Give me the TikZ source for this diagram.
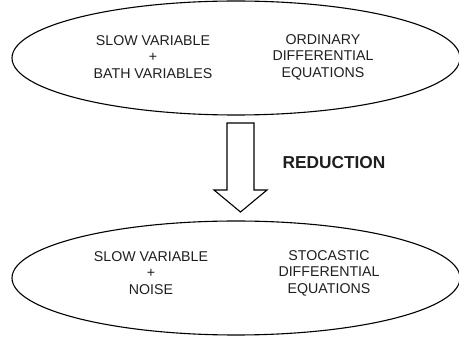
\documentclass[tikz,border=0pt]{standalone}
\usepackage{fontspec}
\setmainfont{Liberation Sans}
\usetikzlibrary{shapes.geometric}
\begin{document}
\begin{tikzpicture}[x=1pt,y=-1pt,
  oval/.style={ellipse,draw,line width=1.1pt,inner sep=0pt,
    minimum width=448pt,minimum height=114pt},
  lbl/.style={align=center,font=\fontsize{14.2}{16.5}\selectfont,text=black!88},
  blockarrow/.style={draw,line width=1.1pt,line join=miter}]
  \useasboundingbox (0,0) rectangle (459,342);
  \clip (0,0) rectangle (459,342);
  % upper and lower ovals
  \node[oval] (top) at (236,58) {};
  \node[oval] (bot) at (236,278) {};
  % texts inside the upper oval
  \node[lbl] (topL) at (153,57) {SLOW VARIABLE\\+\\BATH VARIABLES};
  \node[lbl] (topR) at (323,57) {ORDINARY\\DIFFERENTIAL\\EQUATIONS};
  % texts inside the lower oval
  \node[lbl] (botL) at (151,273) {SLOW VARIABLE\\+\\NOISE};
  \node[lbl] (botR) at (329,273) {STOCASTIC\\DIFFERENTIAL\\EQUATIONS};
  % block arrow between the ovals
  \draw[blockarrow] (227,123) -- (254,123) -- (254,190) -- (267,190)
    -- (240.5,212) -- (214,190) -- (227,190) -- cycle;
  \node[font=\fontsize{17.3}{20}\selectfont\bfseries,text=black!88] (red) at (334,163) {REDUCTION};
\end{tikzpicture}
\end{document}
